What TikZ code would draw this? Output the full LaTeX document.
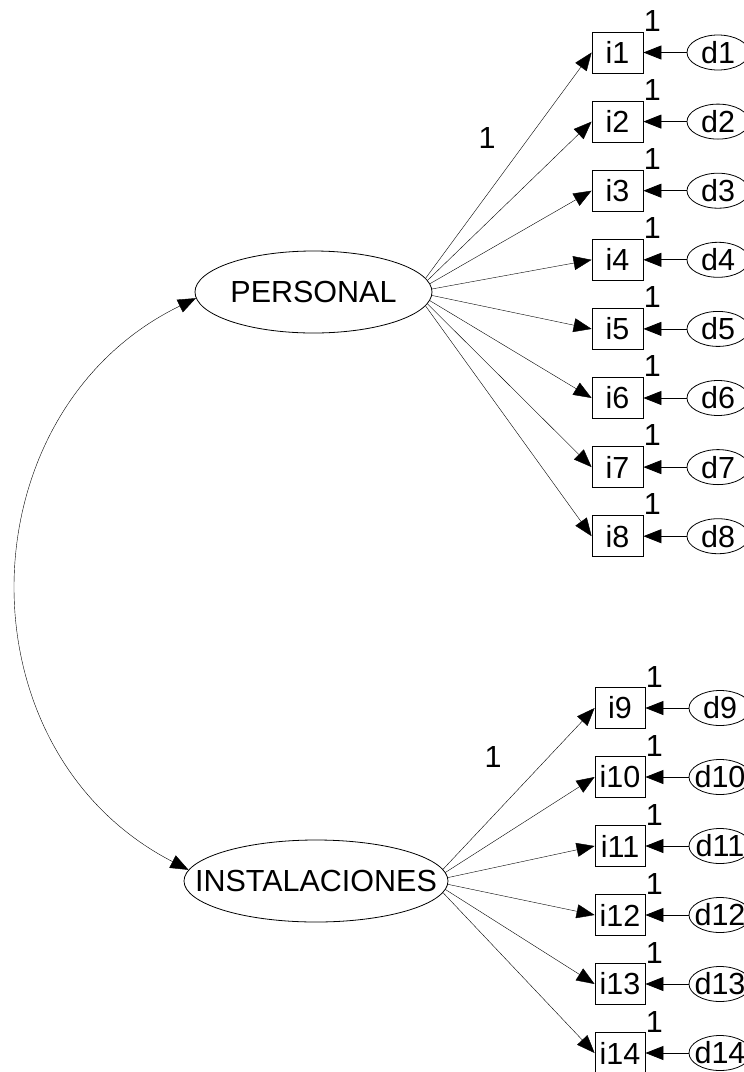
\documentclass[tikz,border=0pt]{standalone}
\usepackage{fontspec}
\setmainfont{Liberation Sans}
\usetikzlibrary{shapes.geometric,arrows.meta,backgrounds,calc}
\begin{document}
\begin{tikzpicture}[x=1pt,y=-1pt, font=\fontsize{30.5}{33}\selectfont, line width=0.8pt,
  obs/.style={draw, rectangle, minimum width=51pt, minimum height=41pt, inner sep=0pt},
  err/.style={draw, ellipse, minimum width=62pt, minimum height=35pt, inner xsep=-6pt, inner ysep=-2pt},
  lat/.style={draw, ellipse, fill=white, minimum height=82pt, inner xsep=-45pt, inner ysep=-2pt},
  arr/.style={-{Triangle[length=18pt,width=14pt]}},
  dbl/.style={{Triangle[length=18pt,width=14pt]}-{Triangle[length=18pt,width=14pt]}},
  one/.style={inner sep=0pt}]
\useasboundingbox (0,0) rectangle (744,1072);
% latent variables
\node[lat, minimum width=237pt] (P) at (313.5,292) {PERSONAL};
\node[lat, minimum width=264pt] (I) at (316,881) {INSTALACIONES};
\coordinate (Pf) at (415.5,292);
\coordinate (If) at (432,881);
% indicators of PERSONAL
\foreach \k in {1,...,8} {
  \node[obs] (i\k) at (617.5,{52.5+69.1*(\k-1)}) {i\k};
  \node[err] (d\k) at (718,{52.5+69.1*(\k-1)}) {d\k};
  \draw[arr] (d\k) -- (i\k);
  \node[one] (w\k) at ($(i\k.north east)+(9,-11)$) {1};
}
% indicators of INSTALACIONES
\foreach \k in {9,...,14} {
  \node[obs, minimum width=50pt] (i\k) at (620,{708+69*(\k-9)}) {i\k};
  \node[err] (d\k) at (720,{708+69*(\k-9)}) {d\k};
  \draw[arr] (d\k) -- (i\k);
  \node[one] (w\k) at ($(i\k.north east)+(9,-10)$) {1};
}
% loadings
\begin{pgfonlayer}{background}
\foreach \k in {1,...,8} { \draw[arr] (Pf) -- (i\k.west); }
\foreach \k in {9,...,14} { \draw[arr] (If) -- (i\k.west); }
\end{pgfonlayer}
\node[one] (lp) at (487,138) {1};
\node[one] (li) at (493,757) {1};
% covariance
\draw[dbl] (P.183) .. controls (-36,411) and (-44,750) .. (I.175);
\end{tikzpicture}
\end{document}
